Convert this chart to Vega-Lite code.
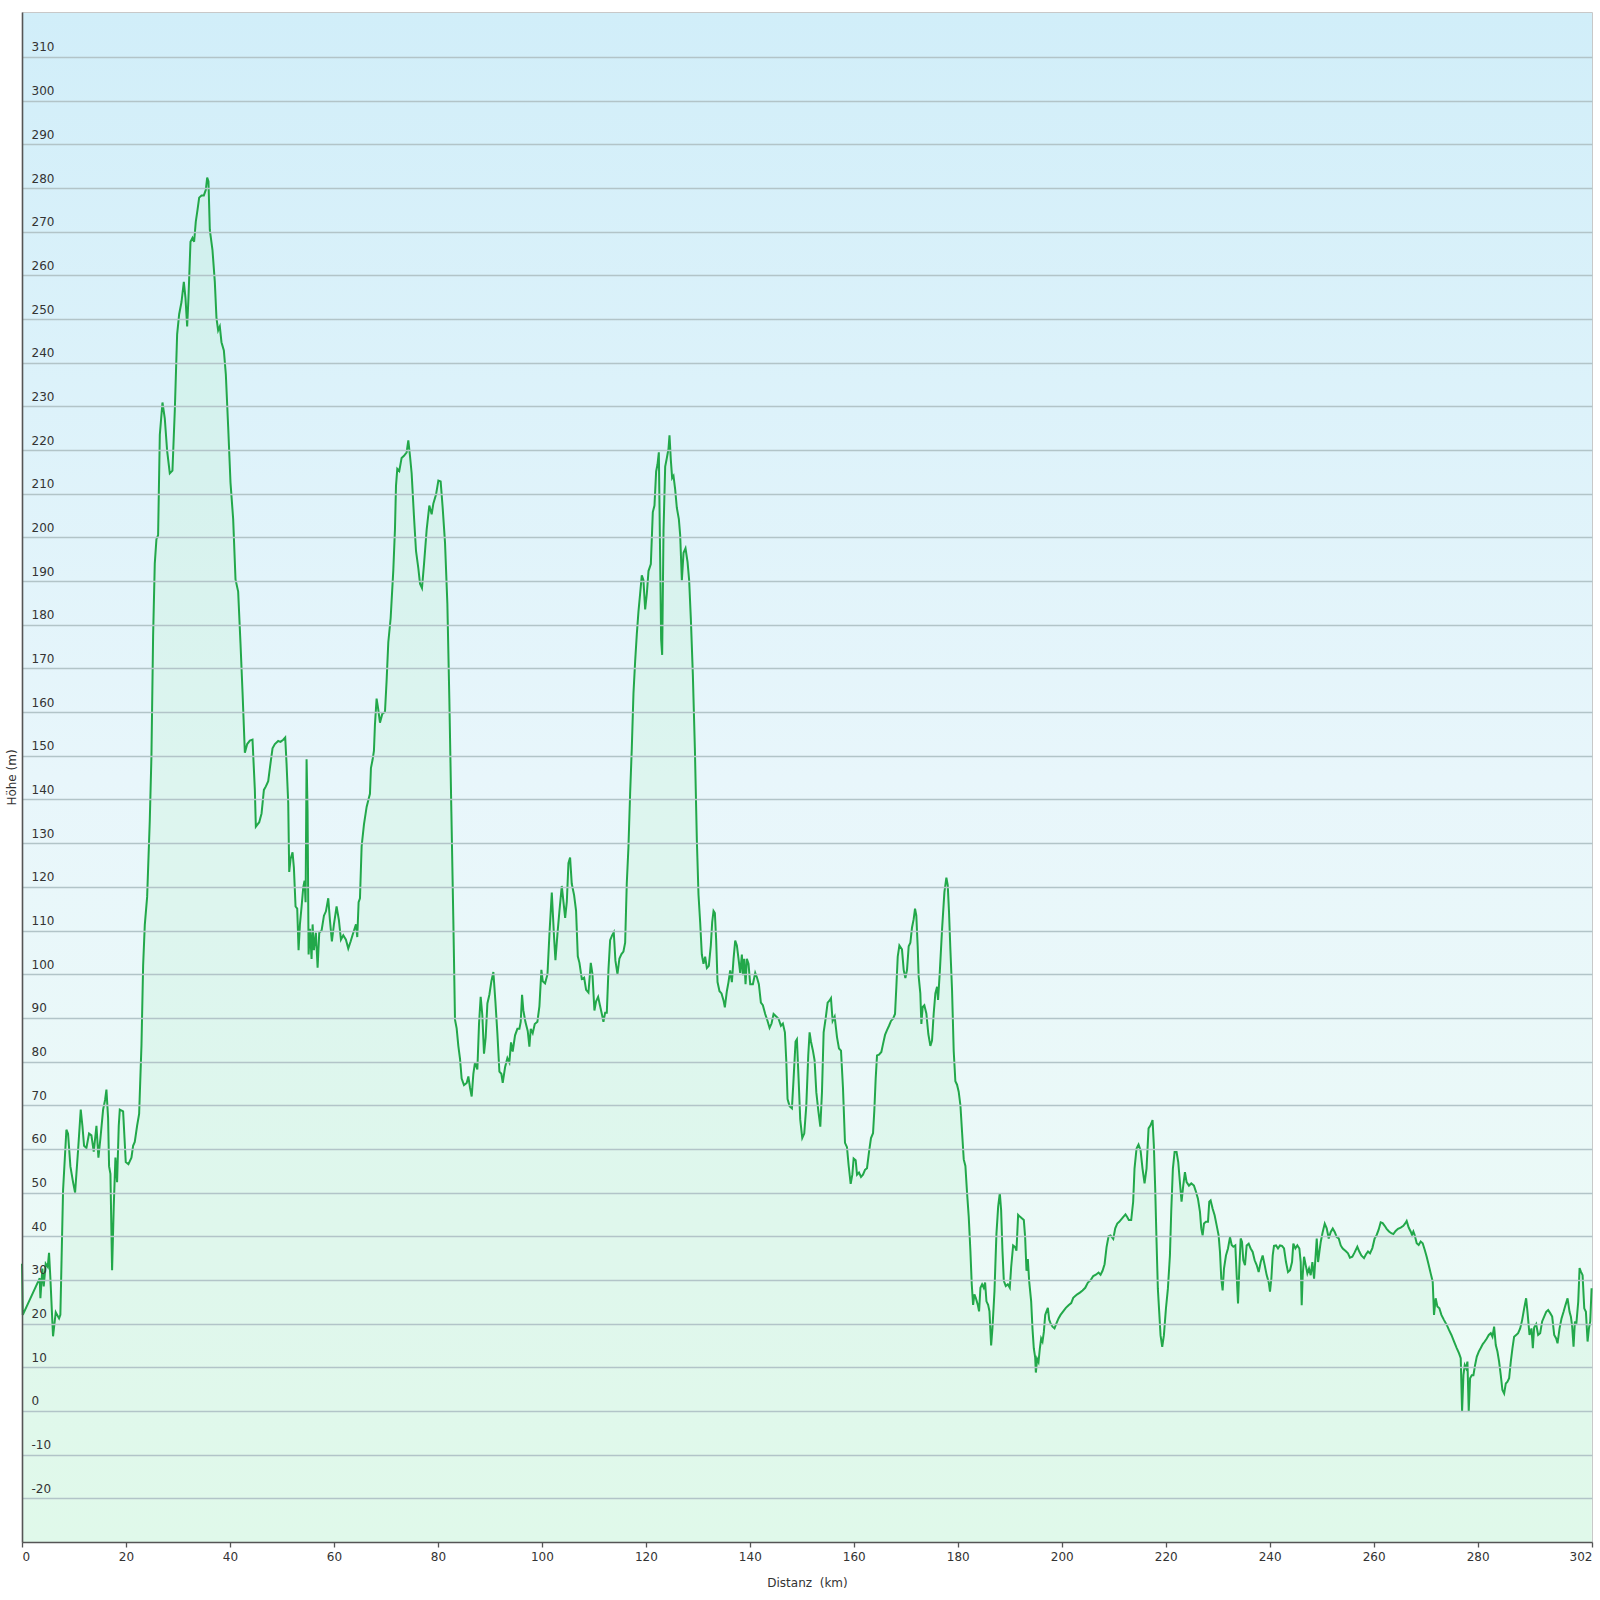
{
"$schema": "https://vega.github.io/schema/vega-lite/v6.json",
"width": 1570,
"height": 1530,
"autosize": {"type": "none"},
"padding": {"left": 22, "top": 12, "right": 8, "bottom": 58},
"background": "#ffffff",
"config": {"view": {"stroke": "#c8c8c8", "strokeWidth": 1,
  "fill": {"gradient": "linear", "x1": 0, "y1": 0, "x2": 0, "y2": 1,
      "stops": [{"offset": 0, "color": "#d1eef9"}, {"offset": 0.5, "color": "#e8f6fb"}, {"offset": 1, "color": "#edfcf4"}]}},
  "font": "DejaVu Sans"},
"datasets": {"p": [
{"d":0,"h":33.7},{"d":0.15,"h":22},{"d":3.41,"h":30.4},{"d":3.54,"h":25.8},{"d":3.92,"h":32.6},{"d":4.18,"h":28.5},{"d":4.56,"h":33.7},{"d":4.95,"h":33},{"d":5.2,"h":36.2},{"d":5.46,"h":30.4},{"d":5.85,"h":20.2},{"d":5.97,"h":17.1},{"d":6.49,"h":22.6},{"d":7.13,"h":21.2},{"d":7.38,"h":22},{"d":7.9,"h":50.6},{"d":8.54,"h":64.4},{"d":8.86,"h":63.5},{"d":9.31,"h":56},{"d":9.82,"h":52.4},{"d":10.21,"h":50},{"d":10.79,"h":59.8},{"d":11.3,"h":69},{"d":11.62,"h":65.3},{"d":11.94,"h":60.7},{"d":12.39,"h":60.2},{"d":12.9,"h":63.5},{"d":13.35,"h":63.1},{"d":13.8,"h":59.4},{"d":14.32,"h":65.3},{"d":14.7,"h":58},{"d":15.09,"h":62.5},{"d":15.6,"h":69},{"d":15.98,"h":71.2},{"d":16.24,"h":73.6},{"d":16.56,"h":67.1},{"d":16.75,"h":56},{"d":17.01,"h":54.3},{"d":17.33,"h":32.2},{"d":17.65,"h":46.9},{"d":17.97,"h":58},{"d":18.29,"h":52.4},{"d":18.61,"h":65.3},{"d":18.81,"h":69},{"d":19.45,"h":68.6},{"d":19.96,"h":57},{"d":20.47,"h":56.5},{"d":21.05,"h":58},{"d":21.37,"h":60.7},{"d":21.69,"h":61.6},{"d":22.14,"h":65.3},{"d":22.53,"h":68},{"d":22.98,"h":83.7},{"d":23.3,"h":102},{"d":23.62,"h":111.3},{"d":24.07,"h":117.7},{"d":24.58,"h":135.2},{"d":24.9,"h":150},{"d":25.22,"h":177.5},{"d":25.54,"h":194},{"d":25.86,"h":199.6},{"d":26.18,"h":200.5},{"d":26.51,"h":223.5},{"d":27.02,"h":230.9},{"d":27.47,"h":227.2},{"d":27.92,"h":219.8},{"d":28.43,"h":214.7},{"d":28.94,"h":215.3},{"d":29.39,"h":229},{"d":29.84,"h":246.5},{"d":30.23,"h":251.1},{"d":30.68,"h":253.9},{"d":31.13,"h":258.5},{"d":31.45,"h":254.8},{"d":31.77,"h":248.3},{"d":32.02,"h":254.8},{"d":32.41,"h":267.7},{"d":32.79,"h":268.6},{"d":33.11,"h":267.7},{"d":33.43,"h":272.3},{"d":33.76,"h":275},{"d":34.08,"h":277.8},{"d":34.53,"h":278.3},{"d":34.98,"h":278.3},{"d":35.36,"h":279.6},{"d":35.62,"h":282.4},{"d":35.87,"h":281.5},{"d":36.13,"h":270.4},{"d":36.64,"h":265.8},{"d":37.09,"h":258.5},{"d":37.41,"h":250.2},{"d":37.73,"h":247.4},{"d":38.05,"h":248.3},{"d":38.37,"h":244.7},{"d":38.83,"h":242.8},{"d":39.21,"h":237.3},{"d":39.66,"h":225.3},{"d":40.11,"h":212.5},{"d":40.62,"h":204.2},{"d":41.07,"h":190.4},{"d":41.58,"h":187.6},{"d":42.03,"h":175.7},{"d":42.42,"h":164.6},
{"d":42.87,"h":150.7},{"d":43.32,"h":152.7},{"d":43.83,"h":153.5},{"d":44.34,"h":153.7},{"d":44.79,"h":142.2},{"d":44.98,"h":133.8},{"d":45.63,"h":134.8},{"d":46.08,"h":136.8},{"d":46.53,"h":142.2},{"d":46.91,"h":143},{"d":47.36,"h":144.2},{"d":47.68,"h":147.2},{"d":48.19,"h":151.7},{"d":48.64,"h":152.7},{"d":49.28,"h":153.4},{"d":49.73,"h":153.2},{"d":50.25,"h":153.7},{"d":50.63,"h":154.2},{"d":50.89,"h":148.2},{"d":51.21,"h":139.2},{"d":51.4,"h":123.4},{"d":51.66,"h":126.4},{"d":52.04,"h":127.9},{"d":52.3,"h":124.4},{"d":52.62,"h":115.5},{"d":52.94,"h":115},{"d":53.2,"h":105.5},{"d":53.46,"h":111.4},{"d":53.78,"h":115.5},{"d":54.1,"h":119.9},{"d":54.35,"h":121.4},{"d":54.55,"h":116.5},{"d":54.74,"h":149.2},{"d":54.93,"h":137.3},{"d":55.13,"h":104.5},{"d":55.38,"h":110.4},{"d":55.7,"h":103.5},{"d":55.9,"h":111.4},{"d":56.15,"h":105.5},{"d":56.53,"h":109.5},{"d":56.86,"h":101.5},{"d":57.18,"h":109.5},{"d":57.63,"h":110},{"d":58.08,"h":113.4},{"d":58.46,"h":114.4},{"d":58.91,"h":117.4},{"d":59.23,"h":112.4},{"d":59.61,"h":107.5},{"d":60,"h":111.4},{"d":60.51,"h":115.5},{"d":60.96,"h":112.4},{"d":61.35,"h":107.9},{"d":61.8,"h":108.9},{"d":62.31,"h":107.9},{"d":62.76,"h":105.9},{"d":63.21,"h":107.5},{"d":63.72,"h":109.5},{"d":64.24,"h":111.4},{"d":64.49,"h":108.5},{"d":64.75,"h":116.5},{"d":65.01,"h":117.4},{"d":65.33,"h":129.3},{"d":65.78,"h":134.3},{"d":66.29,"h":138.3},{"d":66.61,"h":139.8},{"d":66.93,"h":141.3},{"d":67.12,"h":147.2},{"d":67.45,"h":149.2},{"d":67.7,"h":151.2},{"d":67.89,"h":157.1},{"d":68.21,"h":163.1},{"d":68.53,"h":160.6},{"d":68.86,"h":157.6},{"d":69.3,"h":159.6},{"d":69.82,"h":160.1},{"d":70.13,"h":167.1},{"d":70.46,"h":176},{"d":70.91,"h":181.5},{"d":71.42,"h":192.4},{"d":71.74,"h":201.8},{"d":71.94,"h":211.8},{"d":72.19,"h":215.7},{"d":72.57,"h":215.2},{"d":73.02,"h":218.2},{"d":73.48,"h":218.7},{"d":73.99,"h":219.5},{"d":74.31,"h":222.2},{"d":74.63,"h":218.7},{"d":74.95,"h":214.7},{"d":75.4,"h":204.8},{"d":75.79,"h":196.9},{"d":76.24,"h":192.9},{"d":76.56,"h":189.4},{"d":76.94,"h":188.4},{"d":77.33,"h":193.9},{"d":77.84,"h":201.8},{"d":78.35,"h":207.3},{"d":78.8,"h":205.3},{"d":79.13,"h":207.8},{"d":79.64,"h":209.8},{"d":80.09,"h":213},{"d":80.53,"h":212.8},{"d":80.92,"h":206.8},{"d":81.37,"h":198.8},{"d":81.82,"h":184.9},{"d":82.2,"h":163.1},{"d":82.59,"h":137.3},{"d":82.97,"h":112.4},{"d":83.29,"h":89.6},{"d":83.61,"h":87.6},{"d":83.93,"h":83.6},{"d":84.25,"h":80.7},
{"d":84.57,"h":76.1},{"d":85.02,"h":74.6},{"d":85.54,"h":75.1},{"d":85.86,"h":76.6},{"d":86.18,"h":74},{"d":86.5,"h":72},{"d":86.82,"h":77.2},{"d":87.14,"h":79.8},{"d":87.59,"h":78.2},{"d":87.91,"h":88.6},{"d":88.23,"h":94.8},{"d":88.55,"h":90.6},{"d":88.87,"h":81.8},{"d":89.19,"h":85.5},{"d":89.52,"h":93.3},{"d":89.9,"h":95.3},{"d":90.29,"h":98.4},{"d":90.67,"h":100.5},{"d":91.06,"h":93.8},{"d":91.44,"h":86.5},{"d":91.83,"h":77.7},{"d":92.21,"h":77.2},{"d":92.47,"h":75.1},{"d":92.92,"h":78.7},{"d":93.37,"h":80.8},{"d":93.75,"h":79.8},{"d":94.07,"h":84.4},{"d":94.39,"h":82.3},{"d":94.84,"h":86},{"d":95.29,"h":87.5},{"d":95.68,"h":87.5},{"d":95.93,"h":89.1},{"d":96.19,"h":95.3},{"d":96.44,"h":91.7},{"d":96.83,"h":89.1},{"d":97.28,"h":87},{"d":97.6,"h":83.4},{"d":97.86,"h":87.5},{"d":98.24,"h":86.5},{"d":98.63,"h":88.6},{"d":99.14,"h":89.1},{"d":99.53,"h":92.7},{"d":99.91,"h":101},{"d":100.17,"h":98.4},{"d":100.62,"h":97.9},{"d":101.08,"h":100},{"d":101.46,"h":109.3},{"d":101.91,"h":118.7},{"d":102.35,"h":108.4},{"d":102.61,"h":103.2},{"d":103,"h":109.3},{"d":103.38,"h":114.5},{"d":103.83,"h":120.2},{"d":104.15,"h":116.6},{"d":104.48,"h":112.9},{"d":104.8,"h":116.6},{"d":105.11,"h":125.4},{"d":105.43,"h":126.7},{"d":105.75,"h":120.7},{"d":106.2,"h":118.1},{"d":106.58,"h":114.5},{"d":106.91,"h":104.1},{"d":107.23,"h":102.6},{"d":107.68,"h":98.9},{"d":108.13,"h":99.2},{"d":108.51,"h":96.4},{"d":108.96,"h":95.8},{"d":109.41,"h":102.6},{"d":109.73,"h":100},{"d":110.11,"h":91.7},{"d":110.43,"h":93.8},{"d":110.82,"h":94.8},{"d":111.2,"h":92.7},{"d":111.59,"h":90.6},{"d":111.84,"h":89.1},{"d":112.17,"h":91.2},{"d":112.49,"h":91.2},{"d":112.81,"h":101},{"d":113.13,"h":107.8},{"d":113.51,"h":108.9},{"d":113.83,"h":109.6},{"d":114.15,"h":103.1},{"d":114.54,"h":100},{"d":114.92,"h":103.6},{"d":115.31,"h":104.6},{"d":115.69,"h":105.2},{"d":116.02,"h":107.2},{"d":116.33,"h":120.7},{"d":116.65,"h":129},{"d":116.98,"h":141.5},{"d":117.3,"h":151.8},{"d":117.62,"h":164.3},{"d":117.94,"h":171.6},{"d":118.26,"h":177.8},{"d":118.58,"h":183},{"d":118.9,"h":187.1},{"d":119.22,"h":191.3},{"d":119.54,"h":190.2},{"d":119.87,"h":183.5},{"d":120.19,"h":187.1},{"d":120.51,"h":192.3},{"d":120.96,"h":193.9},{"d":121.34,"h":205.8},{"d":121.66,"h":207.3},{"d":121.98,"h":215.1},{"d":122.24,"h":216.7},{"d":122.5,"h":219.5},{"d":122.75,"h":195.4},{"d":122.94,"h":176.7},{"d":123.14,"h":173.1},{"d":123.4,"h":201.6},{"d":123.72,"h":216.2},{"d":124.04,"h":218.2},{"d":124.36,"h":220.3},{"d":124.55,"h":223.4},{"d":124.81,"h":217.7},{"d":125.06,"h":213.6},{"d":125.32,"h":214.1},{"d":125.64,"h":211},{"d":125.96,"h":206.8},{"d":126.35,"h":204.2},{"d":126.6,"h":200.6},{"d":126.93,"h":190.2},{"d":127.25,"h":196.5},{"d":127.63,"h":197.5},{"d":128.02,"h":194.4},
{"d":128.33,"h":190.2},{"d":128.66,"h":181.3},{"d":129.04,"h":168.7},{"d":129.43,"h":151.8},{"d":129.81,"h":130.8},{"d":130.13,"h":118.2},{"d":130.45,"h":111.9},{"d":130.77,"h":104.5},{"d":131.09,"h":102.4},{"d":131.41,"h":104},{"d":131.74,"h":101.4},{"d":132.12,"h":101.9},{"d":132.5,"h":106.6},{"d":132.76,"h":111.9},{"d":133.02,"h":114.5},{"d":133.28,"h":114},{"d":133.53,"h":107.7},{"d":133.79,"h":98.2},{"d":134.17,"h":96.1},{"d":134.56,"h":95.6},{"d":134.94,"h":94},{"d":135.2,"h":92.4},{"d":135.58,"h":96.1},{"d":135.9,"h":98.2},{"d":136.22,"h":100.9},{"d":136.55,"h":98.2},{"d":136.87,"h":103.5},{"d":137.19,"h":107.7},{"d":137.51,"h":106.6},{"d":137.83,"h":103.5},{"d":138.15,"h":100.3},{"d":138.47,"h":104.5},{"d":138.67,"h":99.8},{"d":138.92,"h":103.5},{"d":139.18,"h":97.7},{"d":139.43,"h":103.5},{"d":139.75,"h":102.4},{"d":140.08,"h":97.7},{"d":140.59,"h":97.7},{"d":141.04,"h":100.3},{"d":141.36,"h":99.3},{"d":141.74,"h":97.7},{"d":142.13,"h":93.5},{"d":142.51,"h":92.9},{"d":142.96,"h":90.9},{"d":143.41,"h":89.3},{"d":143.8,"h":87.7},{"d":144.18,"h":88.7},{"d":144.57,"h":90.9},{"d":145.08,"h":90.3},{"d":145.53,"h":89.8},{"d":145.98,"h":88.2},{"d":146.36,"h":88.7},{"d":146.75,"h":86.7},{"d":147.01,"h":80.3},{"d":147.26,"h":71.4},{"d":147.65,"h":69.8},{"d":148.1,"h":69.3},{"d":148.42,"h":76.1},{"d":148.8,"h":84.6},{"d":149.06,"h":85.1},{"d":149.38,"h":76.1},{"d":149.7,"h":66.7},{"d":150.09,"h":62.5},{"d":150.47,"h":63.5},{"d":150.86,"h":69.8},{"d":151.24,"h":81.4},{"d":151.5,"h":86.7},{"d":151.76,"h":84.6},{"d":152.14,"h":82.5},{"d":152.46,"h":80.3},{"d":152.79,"h":73},{"d":153.17,"h":68.8},{"d":153.56,"h":65.1},{"d":153.88,"h":73},{"d":154.2,"h":86.7},{"d":154.58,"h":89.8},{"d":154.97,"h":93.5},{"d":155.35,"h":94},{"d":155.61,"h":94.5},{"d":155.93,"h":89.3},{"d":156.32,"h":90.3},{"d":156.77,"h":85.6},{"d":157.15,"h":83},{"d":157.54,"h":82.5},{"d":157.92,"h":74},{"d":158.31,"h":61.4},{"d":158.69,"h":60.4},{"d":159.01,"h":56.2},{"d":159.4,"h":52},{"d":159.72,"h":54.1},{"d":159.97,"h":57.8},{"d":160.36,"h":57.4},{"d":160.62,"h":54.1},{"d":161,"h":54.6},{"d":161.39,"h":53.6},{"d":161.77,"h":54.1},{"d":162.16,"h":55.2},{"d":162.54,"h":55.6},{"d":162.93,"h":59.3},{"d":163.31,"h":62.5},{"d":163.7,"h":63.6},{"d":163.95,"h":68.8},{"d":164.21,"h":76.1},{"d":164.47,"h":81.4},{"d":164.85,"h":81.6},{"d":165.3,"h":82.2},{"d":165.62,"h":84},{"d":166.01,"h":86.1},{"d":166.39,"h":87.2},{"d":166.78,"h":88.2},{"d":167.16,"h":89.3},{"d":167.55,"h":89.8},{"d":167.93,"h":90.9},{"d":168.19,"h":97.2},{"d":168.45,"h":104},{"d":168.77,"h":106.6},
{"d":169.27,"h":105.7},{"d":169.6,"h":101},{"d":169.92,"h":99.1},{"d":170.24,"h":101},{"d":170.56,"h":106.4},{"d":170.88,"h":107.2},{"d":171.2,"h":110.7},{"d":171.52,"h":112.6},{"d":171.78,"h":115},{"d":172.03,"h":113.4},{"d":172.29,"h":106.4},{"d":172.48,"h":99.5},{"d":172.8,"h":95.6},{"d":173,"h":88.6},{"d":173.25,"h":92.5},{"d":173.57,"h":92.9},{"d":173.96,"h":91},{"d":174.34,"h":86.3},{"d":174.73,"h":83.6},{"d":175.05,"h":84.8},{"d":175.37,"h":91},{"d":175.69,"h":95.6},{"d":176.02,"h":97.1},{"d":176.21,"h":94.1},{"d":176.53,"h":100.2},{"d":176.98,"h":110.3},{"d":177.43,"h":118.8},{"d":177.81,"h":122.1},{"d":178.07,"h":120.4},{"d":178.32,"h":114.2},{"d":178.58,"h":105.7},{"d":178.9,"h":96.4},{"d":179.22,"h":82.4},{"d":179.54,"h":75.5},{"d":179.86,"h":74.7},{"d":180.18,"h":73.1},{"d":180.51,"h":70},{"d":180.83,"h":63.8},{"d":181.15,"h":57.6},{"d":181.47,"h":56.1},{"d":181.79,"h":49.9},{"d":182.11,"h":44.5},{"d":182.43,"h":36.7},{"d":182.69,"h":29},{"d":182.95,"h":24.3},{"d":183.2,"h":26.7},{"d":183.46,"h":25.9},{"d":183.85,"h":24.3},{"d":184.1,"h":22.8},{"d":184.36,"h":28.2},{"d":184.68,"h":29},{"d":185,"h":28.2},{"d":185.26,"h":29.4},{"d":185.52,"h":25.1},{"d":185.84,"h":24.3},{"d":186.1,"h":22.8},{"d":186.42,"h":15},{"d":186.67,"h":18.9},{"d":187.06,"h":27.4},{"d":187.44,"h":40.6},{"d":187.77,"h":46.8},{"d":188.09,"h":49.9},{"d":188.34,"h":46},{"d":188.6,"h":36.7},{"d":188.86,"h":29.8},{"d":189.24,"h":28.6},{"d":189.63,"h":29},{"d":190.01,"h":28.2},{"d":190.27,"h":32.9},{"d":190.65,"h":37.9},{"d":191.04,"h":37.5},{"d":191.29,"h":36.7},{"d":191.61,"h":44.9},{"d":191.94,"h":44.5},{"d":192.32,"h":44.1},{"d":192.71,"h":43.7},{"d":192.96,"h":39.8},{"d":193.22,"h":32.1},{"d":193.48,"h":34.8},{"d":193.73,"h":29.8},{"d":194.12,"h":25.1},{"d":194.37,"h":18.9},{"d":194.63,"h":14.3},{"d":194.89,"h":12.3},{"d":195.02,"h":8.8},{"d":195.27,"h":11.9},{"d":195.53,"h":11.2},{"d":195.79,"h":14.3},{"d":196.04,"h":16.6},{"d":196.3,"h":15.9},{"d":196.56,"h":18.1},{"d":196.82,"h":22},{"d":197.07,"h":22.8},{"d":197.33,"h":23.6},{"d":197.59,"h":20.9},{"d":197.84,"h":20.1},{"d":198.23,"h":19.3},{"d":198.61,"h":18.9},{"d":199,"h":20.1},{"d":199.38,"h":21.2},{"d":199.77,"h":22},{"d":200.28,"h":22.8},{"d":200.79,"h":23.6},{"d":201.31,"h":24.2},{"d":201.82,"h":24.7},{"d":202.21,"h":25.9},{"d":202.59,"h":26.3},{"d":202.98,"h":26.7},{"d":203.49,"h":27.1},{"d":204,"h":27.6},{"d":204.52,"h":28.2},{"d":205.03,"h":29.4},{"d":205.54,"h":29.9},{"d":206.06,"h":30.9},{"d":206.57,"h":31.2},{"d":207.08,"h":31.7},{"d":207.47,"h":31.2},{"d":207.85,"h":32.1},{"d":208.24,"h":33.6},{"d":208.62,"h":37.5},{"d":209.01,"h":40},{"d":209.39,"h":40.2},{"d":209.91,"h":39.4},{"d":210.29,"h":41.8},{"d":210.68,"h":42.9},{"d":211.06,"h":43.3},
{"d":211.81,"h":44.4},{"d":212.26,"h":45},{"d":212.59,"h":44.4},{"d":212.91,"h":43.7},{"d":213.36,"h":43.7},{"d":213.74,"h":47.9},{"d":214,"h":55.5},{"d":214.39,"h":60.1},{"d":214.77,"h":61},{"d":215.16,"h":59.7},{"d":215.54,"h":55.5},{"d":215.93,"h":52.1},{"d":216.31,"h":55.5},{"d":216.7,"h":64.7},{"d":217.08,"h":65.4},{"d":217.47,"h":66.6},{"d":217.72,"h":60.8},{"d":217.98,"h":50.9},{"d":218.24,"h":38.7},{"d":218.49,"h":28},{"d":218.75,"h":22.7},{"d":219.01,"h":17.3},{"d":219.33,"h":14.7},{"d":219.65,"h":17.3},{"d":220.04,"h":23.4},{"d":220.42,"h":28},{"d":220.81,"h":35.6},{"d":221.06,"h":45.6},{"d":221.38,"h":55.5},{"d":221.71,"h":59.3},{"d":222.09,"h":59.3},{"d":222.41,"h":57},{"d":222.73,"h":52.4},{"d":223.05,"h":47.9},{"d":223.37,"h":51.6},{"d":223.7,"h":54.7},{"d":224.02,"h":52.4},{"d":224.47,"h":51.6},{"d":224.92,"h":52.1},{"d":225.43,"h":51.6},{"d":225.82,"h":50.2},{"d":226.2,"h":48.6},{"d":226.59,"h":45.6},{"d":226.84,"h":41.8},{"d":227.1,"h":40.2},{"d":227.36,"h":42.9},{"d":227.74,"h":43.3},{"d":228.13,"h":43.3},{"d":228.38,"h":47.9},{"d":228.64,"h":48.2},{"d":229.03,"h":46.3},{"d":229.41,"h":44.8},{"d":229.8,"h":42.5},{"d":230.18,"h":40.2},{"d":230.44,"h":36.4},{"d":230.69,"h":30.3},{"d":230.95,"h":27.6},{"d":231.21,"h":32.6},{"d":231.59,"h":35.6},{"d":231.98,"h":37.2},{"d":232.37,"h":39.8},{"d":232.69,"h":38},{"d":233.01,"h":37.6},{"d":233.39,"h":37.9},{"d":233.65,"h":31.1},{"d":233.91,"h":24.6},{"d":234.16,"h":32.6},{"d":234.42,"h":39.5},{"d":234.68,"h":38.7},{"d":234.93,"h":34.5},{"d":235.25,"h":33.4},{"d":235.57,"h":37.9},{"d":235.96,"h":38.3},{"d":236.34,"h":37.2},{"d":236.73,"h":36.4},{"d":237.11,"h":34.5},{"d":237.5,"h":33.4},{"d":237.88,"h":31.8},{"d":238.27,"h":34.1},{"d":238.65,"h":35.6},{"d":239.04,"h":33.4},{"d":239.42,"h":31.1},{"d":239.81,"h":29.5},{"d":240.06,"h":27.3},{"d":240.32,"h":30.3},{"d":240.58,"h":35.6},{"d":240.83,"h":37.8},{"d":241.22,"h":37.9},{"d":241.6,"h":37.2},{"d":241.99,"h":37.9},{"d":242.37,"h":37.8},{"d":242.76,"h":37.2},{"d":243.14,"h":34.1},{"d":243.53,"h":31.8},{"d":243.91,"h":32.2},{"d":244.3,"h":34.1},{"d":244.55,"h":38.3},{"d":244.94,"h":37.2},{"d":245.32,"h":37.9},{"d":245.71,"h":37.2},{"d":245.97,"h":34.1},{"d":246.16,"h":24.2},{"d":246.35,"h":31.1},{"d":246.61,"h":35.3},{"d":246.93,"h":33.4},{"d":247.25,"h":31.5},{"d":247.57,"h":32.6},{"d":247.89,"h":31.1},{"d":248.21,"h":34.1},{"d":248.54,"h":30.3},{"d":248.79,"h":34.8},{"d":249.05,"h":39.5},{"d":249.31,"h":34.1},{"d":249.56,"h":36.4},{"d":249.82,"h":38.7},{"d":250.2,"h":41},{"d":250.59,"h":42.9},{"d":250.97,"h":41.8},{"d":251.36,"h":39.5},{"d":251.74,"h":41},{"d":252.13,"h":41.8},{"d":252.51,"h":41},{"d":252.9,"h":39.8},{"d":253.28,"h":39.5},{"d":253.67,"h":37.9},{"d":254.05,"h":37.2},
{"d":254.61,"h":36.6},{"d":255.06,"h":36.1},{"d":255.44,"h":35.1},{"d":255.9,"h":35.3},{"d":256.34,"h":36.3},{"d":256.86,"h":37.6},{"d":257.24,"h":36.5},{"d":257.63,"h":35.6},{"d":258.14,"h":35},{"d":258.53,"h":35.9},{"d":258.91,"h":36.5},{"d":259.3,"h":36.1},{"d":259.75,"h":37.3},{"d":260.19,"h":39.5},{"d":260.58,"h":40.3},{"d":260.96,"h":41.5},{"d":261.35,"h":43.2},{"d":261.73,"h":43},{"d":262.12,"h":42.4},{"d":262.5,"h":41.7},{"d":262.95,"h":41.1},{"d":263.4,"h":40.7},{"d":263.79,"h":40.5},{"d":264.23,"h":41.2},{"d":264.68,"h":41.7},{"d":265.2,"h":42},{"d":265.71,"h":42.4},{"d":266.1,"h":43},{"d":266.35,"h":43.5},{"d":266.74,"h":42},{"d":267.12,"h":41.1},{"d":267.38,"h":40.3},{"d":267.64,"h":41.1},{"d":267.89,"h":40.3},{"d":268.28,"h":38.4},{"d":268.66,"h":38},{"d":269.05,"h":38.8},{"d":269.43,"h":38.4},{"d":269.82,"h":36.9},{"d":270.2,"h":35.3},{"d":270.59,"h":33.4},{"d":270.97,"h":31.5},{"d":271.36,"h":29.6},{"d":271.61,"h":22},{"d":271.93,"h":25.8},{"d":272.26,"h":23.9},{"d":272.64,"h":23.5},{"d":273.03,"h":22},{"d":273.54,"h":20.8},{"d":274.06,"h":19.7},{"d":274.51,"h":18.5},{"d":274.96,"h":17.4},{"d":275.47,"h":15.9},{"d":275.98,"h":14.4},{"d":276.43,"h":13.2},{"d":276.75,"h":12.1},{"d":277.01,"h":0},{"d":277.27,"h":8.2},{"d":277.52,"h":10.5},{"d":277.78,"h":9.8},{"d":278.04,"h":11.3},{"d":278.29,"h":0},{"d":278.55,"h":7.5},{"d":278.87,"h":8.2},{"d":279.19,"h":8.2},{"d":279.51,"h":10.5},{"d":279.83,"h":12.4},{"d":280.22,"h":13.6},{"d":280.6,"h":14.4},{"d":280.99,"h":15.3},{"d":281.37,"h":15.9},{"d":281.76,"h":16.6},{"d":282.14,"h":17.4},{"d":282.53,"h":17.8},{"d":282.85,"h":17},{"d":283.17,"h":19.3},{"d":283.49,"h":15.1},{"d":283.81,"h":13.6},{"d":284.13,"h":11.3},{"d":284.45,"h":8.2},{"d":284.77,"h":4.8},{"d":285.1,"h":4},{"d":285.42,"h":6.3},{"d":285.74,"h":6.7},{"d":286.06,"h":7.5},{"d":286.38,"h":11.3},{"d":286.7,"h":14.4},{"d":287.02,"h":17},{"d":287.41,"h":17.4},{"d":287.79,"h":17.8},{"d":288.18,"h":18.9},{"d":288.56,"h":20.8},{"d":288.95,"h":23.5},{"d":289.33,"h":25.8},{"d":289.59,"h":22.7},{"d":289.98,"h":17.4},{"d":290.36,"h":18.9},{"d":290.62,"h":14.4},{"d":290.87,"h":19.1},{"d":291.26,"h":19.9},{"d":291.64,"h":17.4},{"d":292.03,"h":17.8},{"d":292.41,"h":20.5},{"d":292.8,"h":21.6},{"d":293.19,"h":22.7},{"d":293.57,"h":23.1},{"d":293.96,"h":22.4},{"d":294.34,"h":21.6},{"d":294.73,"h":17.4},{"d":295.11,"h":16.6},{"d":295.37,"h":15.5},{"d":295.76,"h":18.9},{"d":296.14,"h":21.2},{"d":296.53,"h":22.7},{"d":296.91,"h":24.3},{"d":297.3,"h":25.8},{"d":297.68,"h":22.7},{"d":297.94,"h":21.6},{"d":298.19,"h":19.3},{"d":298.45,"h":14.7},{"d":298.71,"h":20.5},{"d":298.97,"h":19.7},{"d":299.35,"h":25},{"d":299.61,"h":32.7},{"d":299.87,"h":31.9},{"d":300.19,"h":31.1},{"d":300.51,"h":23.5},{"d":300.83,"h":22.7},{"d":301.15,"h":15.9},{"d":301.41,"h":18.9},{"d":301.66,"h":20.5},{"d":301.92,"h":28.1}
]},
"data": {"name": "p"},
"encoding": {
  "x": {"field": "d", "type": "quantitative",
    "scale": {"domain": [0, 302], "nice": false, "zero": false},
    "axis": {"title": "Distanz\u00a0 (km)", "values": [0,20,40,60,80,100,120,140,160,180,200,220,240,260,280,302],
      "labelExpr": "'' + datum.value",
      "grid": false, "ticks": true, "tickSize": 5, "tickColor": "#555555", "tickWidth": 1.3,
      "domainColor": "#555555", "domainWidth": 1.6, "labelFlush": true, "labelPadding": 4,
      "labelFontSize": 12, "labelColor": "#333333", "labelFont": "DejaVu Sans",
      "titleFontSize": 12, "titleFontWeight": "normal", "titleColor": "#333333", "titleFont": "DejaVu Sans",
      "titleY": 40, "titleBaseline": "middle", "zindex": 1}},
  "y": {"field": "h", "type": "quantitative",
    "scale": {"domain": [-30, 320.3], "nice": false, "zero": false},
    "axis": {"title": "Höhe (m)", "values": [-20,-10,0,10,20,30,40,50,60,70,80,90,100,110,120,130,140,150,160,170,180,190,200,210,220,230,240,250,260,270,280,290,300,310],
      "labelExpr": "'' + datum.value",
      "grid": true, "gridColor": "#b2c4c8", "gridWidth": 1.3, "ticks": false, "tickSize": 0,
      "domainColor": "#555555", "domainWidth": 1.6,
      "labelAlign": "left", "labelPadding": -9, "labelBaseline": "middle", "labelOffset": -10,
      "labelFontSize": 12, "labelColor": "#333333", "labelFont": "DejaVu Sans",
      "titleFontSize": 12, "titleFontWeight": "normal", "titleColor": "#333333", "titleFont": "DejaVu Sans",
      "titleX": -11, "titleY": 765, "titleAngle": 270, "titleBaseline": "middle", "titleAlign": "center", "zindex": 1}}
},
"layer": [
  {"mark": {"type": "area", "fill": "#c4f2d3", "fillOpacity": 0.3},
   "encoding": {"y2": {"datum": -30}}},
  {"mark": {"type": "line", "color": "#22a84a", "strokeWidth": 2},
   "encoding": {}}
]
}
